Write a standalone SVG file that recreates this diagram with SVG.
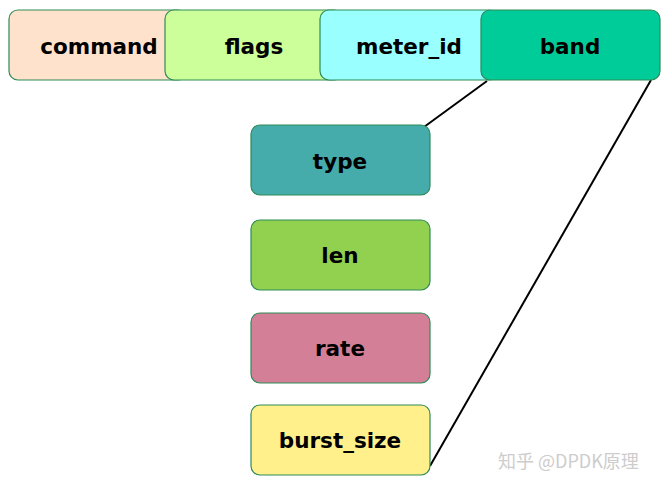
<svg xmlns="http://www.w3.org/2000/svg" width="669" height="488" viewBox="0 0 669 488">
<style>
.b{stroke:#2e8b57;stroke-width:1.2}
.t{font-family:"DejaVu Sans",sans-serif;font-weight:bold;font-size:21.5px;text-anchor:middle;dominant-baseline:central;fill:#000}
.c{stroke:#000;stroke-width:2;fill:none}
</style>
<rect width="669" height="488" fill="#fff"/>
<g id="connectors">
<line class="c" x1="487" y1="81" x2="424" y2="127"/>
<line class="c" x1="651" y1="80" x2="430" y2="466"/>
</g>
<g id="command"><rect class="b" x="9" y="10" width="178" height="70" rx="9" fill="#ffe2cc"/><text class="t" x="99" y="46">command</text></g>
<g id="flags"><rect class="b" x="165" y="10" width="178" height="70" rx="9" fill="#ccff99"/><text class="t" x="254" y="46">flags</text></g>
<g id="meter_id"><rect class="b" x="320" y="10" width="178" height="70" rx="9" fill="#99ffff"/><text class="t" x="409" y="46">meter_id</text></g>
<g id="band"><rect class="b" x="481" y="10" width="179" height="70" rx="9" fill="#00cc99"/><text class="t" x="570" y="46">band</text></g>
<g id="type"><rect class="b" x="251" y="125" width="179" height="70" rx="9" fill="#45abab"/><text class="t" x="340" y="161">type</text></g>
<g id="len"><rect class="b" x="251" y="220" width="179" height="70" rx="9" fill="#92d050"/><text class="t" x="340" y="255">len</text></g>
<g id="rate"><rect class="b" x="251" y="313" width="179" height="70" rx="9" fill="#d47f98"/><text class="t" x="340" y="348">rate</text></g>
<g id="burst_size"><rect class="b" x="251" y="405" width="179" height="70" rx="9" fill="#fff08c"/><text class="t" x="340" y="440">burst_size</text></g>
<text x="498" y="468" font-family="'Noto Sans CJK SC',sans-serif" font-size="18" fill="#c8c8c8" opacity="0.9">知乎 @DPDK原理</text>
</svg>
